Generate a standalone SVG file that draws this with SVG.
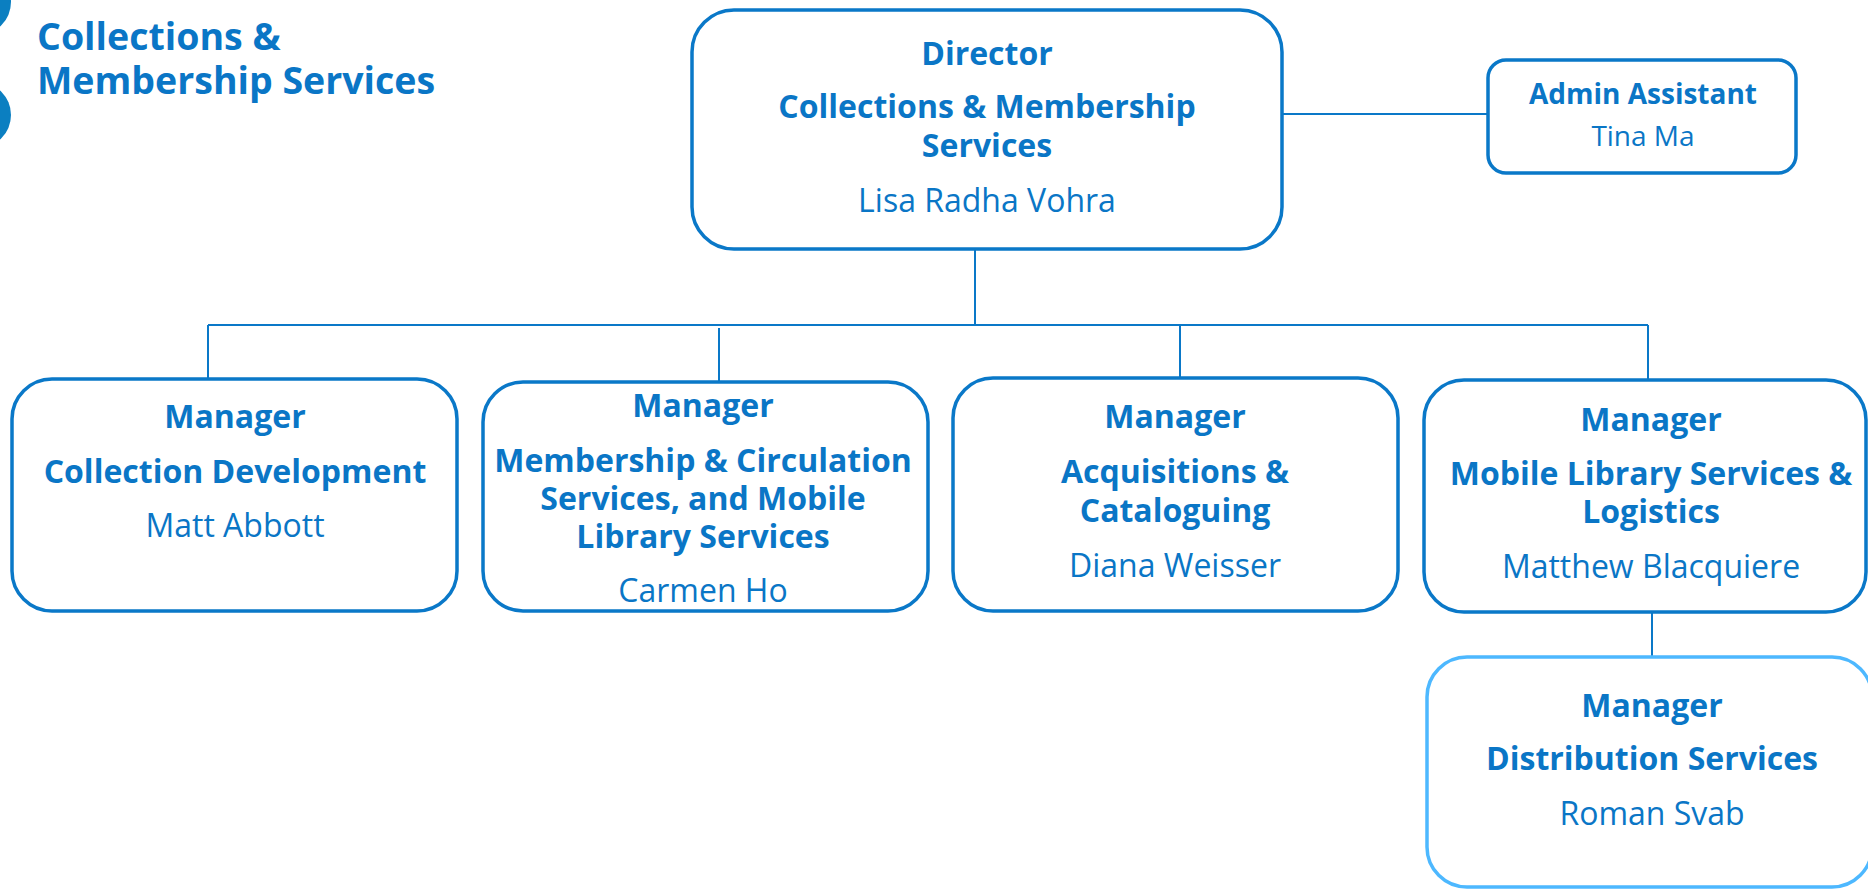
<svg xmlns="http://www.w3.org/2000/svg" width="1868" height="889" viewBox="0 0 1868 889">
<style>
.box{fill:#fff;stroke:#0a78c8;stroke-width:3.5}
.box2{fill:#fff;stroke:#4db8ff;stroke-width:3.5}
.b{font-family:"Open Sans","Noto Sans",sans-serif;font-weight:700;font-size:32px;fill:#0a76c6;text-anchor:middle}
.r{font-family:"Open Sans","Noto Sans",sans-serif;font-weight:400;font-size:32px;fill:#0a76c6;text-anchor:middle}
.t{font-family:"Open Sans","Noto Sans",sans-serif;font-weight:700;font-size:37.5px;fill:#0a76c6}
.ln{fill:none;stroke:#0a78c8;stroke-width:2}
</style>
<rect width="1868" height="889" fill="#fff"/>
<g id="decor">
<circle cx="-22" cy="2" r="33" fill="#0b7fc1"/>
<circle cx="-22" cy="115" r="33" fill="#0b7fc1"/>
<text class="t" x="37" y="50">Collections &amp;</text>
<text class="t" x="37" y="94">Membership Services</text>
</g>
<g id="connectors">
<path class="ln" d="M1282 114H1488"/>
<path class="ln" d="M975 249V325"/>
<path class="ln" d="M208 325H1648"/>
<path class="ln" d="M208 325V379"/>
<path class="ln" d="M719 328V382"/>
<path class="ln" d="M1180 325V378"/>
<path class="ln" d="M1648 325V380"/>
<path class="ln" d="M1652 612V657"/>
</g>
<g id="director">
<rect class="box" x="692" y="10" width="590" height="239" rx="42"/>
<text class="b" x="987" y="65">Director</text>
<text class="b" x="987" y="118">Collections &amp; Membership</text>
<text class="b" x="987" y="157">Services</text>
<text class="r" x="987" y="212">Lisa Radha Vohra</text>
</g>
<g id="admin">
<rect class="box" x="1488" y="60" width="308" height="113" rx="18"/>
<text class="b" x="1643" y="104" style="font-size:28px">Admin Assistant</text>
<text class="r" x="1643" y="146" style="font-size:28px">Tina Ma</text>
</g>
<g id="mgr-collection">
<rect class="box" x="12" y="379" width="445" height="232" rx="40"/>
<text class="b" x="235" y="428">Manager</text>
<text class="b" x="235" y="483">Collection Development</text>
<text class="r" x="235" y="537">Matt Abbott</text>
</g>
<g id="mgr-membership">
<rect class="box" x="483" y="382" width="445" height="229" rx="40"/>
<text class="b" x="703" y="417">Manager</text>
<text class="b" x="703" y="472">Membership &amp; Circulation</text>
<text class="b" x="703" y="510">Services, and Mobile</text>
<text class="b" x="703" y="548">Library Services</text>
<text class="r" x="703" y="602">Carmen Ho</text>
</g>
<g id="mgr-acquisitions">
<rect class="box" x="953" y="378" width="445" height="233" rx="40"/>
<text class="b" x="1175" y="428">Manager</text>
<text class="b" x="1175" y="483">Acquisitions &amp;</text>
<text class="b" x="1175" y="522">Cataloguing</text>
<text class="r" x="1175" y="577">Diana Weisser</text>
</g>
<g id="mgr-mobile">
<rect class="box" x="1424" y="380" width="442" height="232" rx="40"/>
<text class="b" x="1651" y="431">Manager</text>
<text class="b" x="1651" y="485">Mobile Library Services &amp;</text>
<text class="b" x="1651" y="523">Logistics</text>
<text class="r" x="1651" y="578">Matthew Blacquiere</text>
</g>
<g id="mgr-distribution">
<rect class="box2" x="1427" y="657" width="445" height="230" rx="40"/>
<text class="b" x="1652" y="717">Manager</text>
<text class="b" x="1652" y="770">Distribution Services</text>
<text class="r" x="1652" y="825">Roman Svab</text>
</g>
</svg>
